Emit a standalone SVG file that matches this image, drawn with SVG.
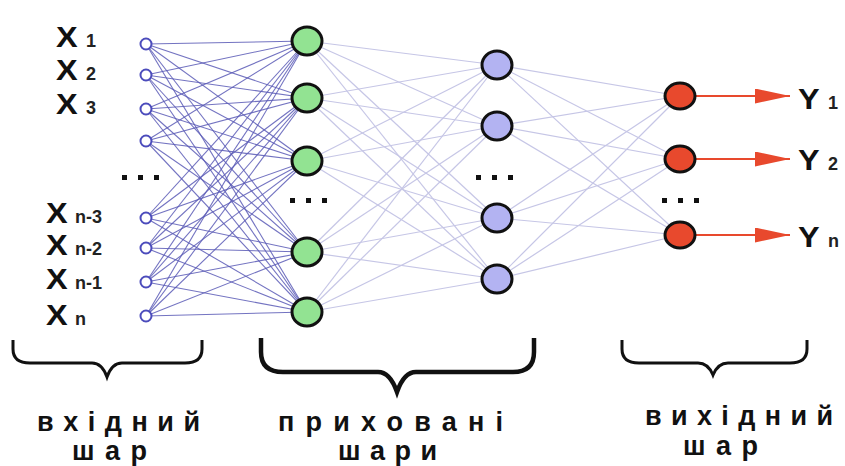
<svg xmlns="http://www.w3.org/2000/svg" width="845" height="466" viewBox="0 0 845 466">
<style>
.in{fill:#fff;stroke:#4c4cbc;stroke-width:2}
.g{fill:#92e392;stroke:#111;stroke-width:3}
.p{fill:#b3b3f2;stroke:#111;stroke-width:3}
.r{fill:#e8492d;stroke:#111;stroke-width:3}
.c1 line{stroke:#5a5ab6;stroke-width:1.1;stroke-opacity:0.85}
.c2 line{stroke:#c6c6e6;stroke-width:1.2}
.out line{stroke:#e8492d;stroke-width:2}
.lbl{font-family:"Liberation Sans",Arial,sans-serif;fill:#111}
.big{font-size:29px;font-weight:bold}
.sub{font-size:18px;font-weight:bold;fill:#222}
.cap{font-family:"Liberation Sans",Arial,sans-serif;font-size:27px;font-weight:bold;fill:#111}
.dot{fill:#111}
.br{fill:none;stroke:#111;stroke-width:3;stroke-linejoin:miter}
</style>
<defs>
<marker id="ah" viewBox="0 0 35 15" refX="35" refY="7.5" markerWidth="35" markerHeight="15" markerUnits="userSpaceOnUse" orient="auto">
<path d="M0,0 L35,7.5 L0,15 z" fill="#e8492d"/>
</marker>
</defs>
<rect width="845" height="466" fill="#fff"/>
<g id="connectors">
<g class="c1">
<line x1="146" y1="44" x2="307" y2="41"/><line x1="146" y1="44" x2="307" y2="98"/><line x1="146" y1="44" x2="307" y2="161"/><line x1="146" y1="44" x2="307" y2="252"/><line x1="146" y1="44" x2="307" y2="312"/>
<line x1="146" y1="75" x2="307" y2="41"/><line x1="146" y1="75" x2="307" y2="98"/><line x1="146" y1="75" x2="307" y2="161"/><line x1="146" y1="75" x2="307" y2="252"/><line x1="146" y1="75" x2="307" y2="312"/>
<line x1="146" y1="109" x2="307" y2="41"/><line x1="146" y1="109" x2="307" y2="98"/><line x1="146" y1="109" x2="307" y2="161"/><line x1="146" y1="109" x2="307" y2="252"/><line x1="146" y1="109" x2="307" y2="312"/>
<line x1="146" y1="141" x2="307" y2="41"/><line x1="146" y1="141" x2="307" y2="98"/><line x1="146" y1="141" x2="307" y2="161"/><line x1="146" y1="141" x2="307" y2="252"/><line x1="146" y1="141" x2="307" y2="312"/>
<line x1="146" y1="218" x2="307" y2="41"/><line x1="146" y1="218" x2="307" y2="98"/><line x1="146" y1="218" x2="307" y2="161"/><line x1="146" y1="218" x2="307" y2="252"/><line x1="146" y1="218" x2="307" y2="312"/>
<line x1="146" y1="248" x2="307" y2="41"/><line x1="146" y1="248" x2="307" y2="98"/><line x1="146" y1="248" x2="307" y2="161"/><line x1="146" y1="248" x2="307" y2="252"/><line x1="146" y1="248" x2="307" y2="312"/>
<line x1="146" y1="282" x2="307" y2="41"/><line x1="146" y1="282" x2="307" y2="98"/><line x1="146" y1="282" x2="307" y2="161"/><line x1="146" y1="282" x2="307" y2="252"/><line x1="146" y1="282" x2="307" y2="312"/>
<line x1="146" y1="316" x2="307" y2="41"/><line x1="146" y1="316" x2="307" y2="98"/><line x1="146" y1="316" x2="307" y2="161"/><line x1="146" y1="316" x2="307" y2="252"/><line x1="146" y1="316" x2="307" y2="312"/>
</g>
<g class="c2">
<line x1="307" y1="41" x2="497" y2="65"/><line x1="307" y1="41" x2="497" y2="126"/><line x1="307" y1="41" x2="497" y2="218"/><line x1="307" y1="41" x2="497" y2="279"/>
<line x1="307" y1="98" x2="497" y2="65"/><line x1="307" y1="98" x2="497" y2="126"/><line x1="307" y1="98" x2="497" y2="218"/><line x1="307" y1="98" x2="497" y2="279"/>
<line x1="307" y1="161" x2="497" y2="65"/><line x1="307" y1="161" x2="497" y2="126"/><line x1="307" y1="161" x2="497" y2="218"/><line x1="307" y1="161" x2="497" y2="279"/>
<line x1="307" y1="252" x2="497" y2="65"/><line x1="307" y1="252" x2="497" y2="126"/><line x1="307" y1="252" x2="497" y2="218"/><line x1="307" y1="252" x2="497" y2="279"/>
<line x1="307" y1="312" x2="497" y2="65"/><line x1="307" y1="312" x2="497" y2="126"/><line x1="307" y1="312" x2="497" y2="218"/><line x1="307" y1="312" x2="497" y2="279"/>
<line x1="497" y1="65" x2="680" y2="96"/><line x1="497" y1="65" x2="680" y2="159"/><line x1="497" y1="65" x2="680" y2="235"/>
<line x1="497" y1="126" x2="680" y2="96"/><line x1="497" y1="126" x2="680" y2="159"/><line x1="497" y1="126" x2="680" y2="235"/>
<line x1="497" y1="218" x2="680" y2="96"/><line x1="497" y1="218" x2="680" y2="159"/><line x1="497" y1="218" x2="680" y2="235"/>
<line x1="497" y1="279" x2="680" y2="96"/><line x1="497" y1="279" x2="680" y2="159"/><line x1="497" y1="279" x2="680" y2="235"/>
</g>
<g class="out">
<line x1="695" y1="96" x2="790" y2="96" marker-end="url(#ah)"/>
<line x1="695" y1="159" x2="790" y2="159" marker-end="url(#ah)"/>
<line x1="695" y1="235" x2="790" y2="235" marker-end="url(#ah)"/>
</g>
</g>
<g id="input-layer">
<circle class="in" cx="146" cy="44" r="5.5"/>
<circle class="in" cx="146" cy="75" r="5.5"/>
<circle class="in" cx="146" cy="109" r="5.5"/>
<circle class="in" cx="146" cy="141" r="5.5"/>
<circle class="in" cx="146" cy="218" r="5.5"/>
<circle class="in" cx="146" cy="248" r="5.5"/>
<circle class="in" cx="146" cy="282" r="5.5"/>
<circle class="in" cx="146" cy="316" r="5.5"/>
<rect class="dot" x="122" y="175" width="5" height="5"/><rect class="dot" x="138" y="175" width="5" height="5"/><rect class="dot" x="154" y="175" width="5" height="5"/>
</g>
<g id="hidden-layer-1">
<ellipse class="g" cx="307" cy="41" rx="15" ry="14"/>
<ellipse class="g" cx="307" cy="98" rx="15" ry="14"/>
<ellipse class="g" cx="307" cy="161" rx="15" ry="14"/>
<ellipse class="g" cx="307" cy="252" rx="15" ry="14"/>
<ellipse class="g" cx="307" cy="312" rx="15" ry="14"/>
<rect class="dot" x="290" y="198" width="5" height="5"/><rect class="dot" x="306" y="198" width="5" height="5"/><rect class="dot" x="322" y="198" width="5" height="5"/>
</g>
<g id="hidden-layer-2">
<ellipse class="p" cx="497" cy="65" rx="15" ry="14"/>
<ellipse class="p" cx="497" cy="126" rx="15" ry="14"/>
<ellipse class="p" cx="497" cy="218" rx="15" ry="14"/>
<ellipse class="p" cx="497" cy="279" rx="15" ry="14"/>
<rect class="dot" x="476" y="175" width="5" height="5"/><rect class="dot" x="492" y="175" width="5" height="5"/><rect class="dot" x="508" y="175" width="5" height="5"/>
</g>
<g id="output-layer">
<ellipse class="r" cx="680" cy="96" rx="15" ry="13"/>
<ellipse class="r" cx="680" cy="159" rx="15" ry="13"/>
<ellipse class="r" cx="680" cy="235" rx="15" ry="13"/>
<rect class="dot" x="662" y="198" width="5" height="5"/><rect class="dot" x="678" y="198" width="5" height="5"/><rect class="dot" x="694" y="198" width="5" height="5"/>
</g>
<g id="input-labels" class="lbl">
<text class="big" transform="translate(56,47) scale(1.12,1)">X</text><text class="sub" x="86" y="47">1</text>
<text class="big" transform="translate(56,80) scale(1.12,1)">X</text><text class="sub" x="86" y="80">2</text>
<text class="big" transform="translate(56,114) scale(1.12,1)">X</text><text class="sub" x="86" y="114">3</text>
<text class="big" transform="translate(46,223) scale(1.12,1)">X</text><text class="sub" x="75" y="223">n-3</text>
<text class="big" transform="translate(46,255) scale(1.12,1)">X</text><text class="sub" x="75" y="255">n-2</text>
<text class="big" transform="translate(46,289) scale(1.12,1)">X</text><text class="sub" x="75" y="289">n-1</text>
<text class="big" transform="translate(46,325) scale(1.12,1)">X</text><text class="sub" x="75" y="325">n</text>
</g>
<g id="output-labels" class="lbl">
<text class="big" transform="translate(798,109) scale(1.12,1)">Y</text><text class="sub" x="828" y="109">1</text>
<text class="big" transform="translate(798,170) scale(1.12,1)">Y</text><text class="sub" x="828" y="170">2</text>
<text class="big" transform="translate(798,247) scale(1.12,1)">Y</text><text class="sub" x="828" y="247">n</text>
</g>
<g id="brace-input">
<path class="br" d="M13,340 L13,349 Q13,363 30,363 L92,363 Q102,363 107,377 Q112,363 122,363 L185,363 Q202,363 202,349 L202,340"/>
<text class="cap" x="37" y="431" textLength="163" lengthAdjust="spacing">вхідний</text>
<text class="cap" x="72" y="460" textLength="75" lengthAdjust="spacing">шар</text>
</g>
<g id="brace-hidden">
<path class="br" style="stroke-width:4.5" d="M261,338 L261,352 Q261,372 283,372 L378,372 Q390,372 397,392 Q404,372 416,372 L513,372 Q534,372 534,352 L534,338"/>
<text class="cap" x="278" y="431" textLength="225" lengthAdjust="spacing">приховані</text>
<text class="cap" x="338" y="460" textLength="99" lengthAdjust="spacing">шари</text>
</g>
<g id="brace-output">
<path class="br" d="M622,340 L622,349 Q622,363 639,363 L698,363 Q708,363 713,375 Q718,363 728,363 L790,363 Q807,363 807,349 L807,340"/>
<text class="cap" x="645" y="425" textLength="188" lengthAdjust="spacing">вихідний</text>
<text class="cap" x="683" y="455" textLength="75" lengthAdjust="spacing">шар</text>
</g>
</svg>
